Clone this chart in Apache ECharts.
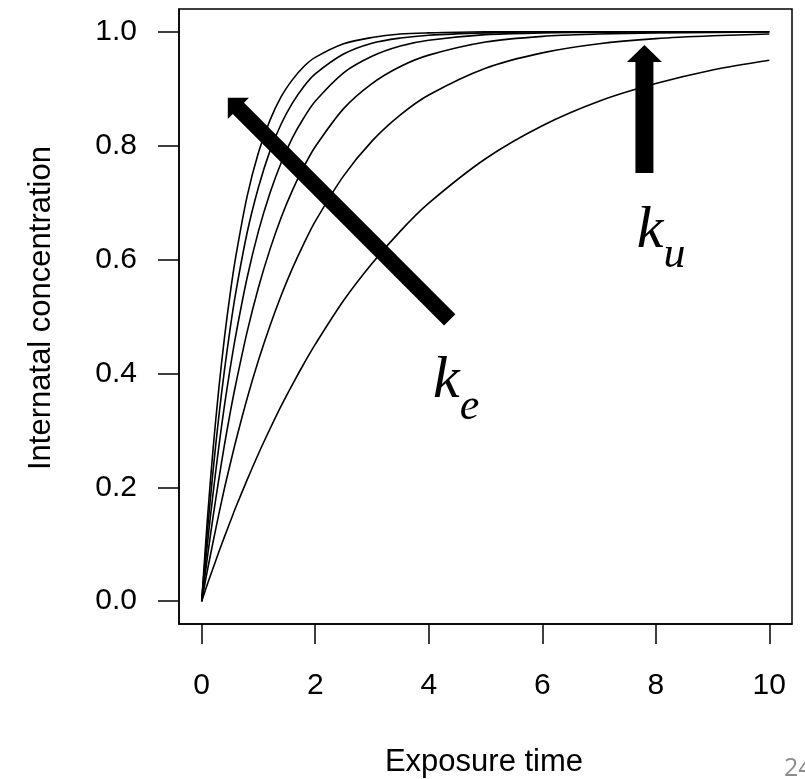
<!DOCTYPE html>
<html>
<head>
<meta charset="utf-8">
<script src="https://cdn.jsdelivr.net/npm/echarts@6/dist/echarts.min.js"></script>
<style>html,body{margin:0;padding:0;background:#fff;}#c{width:805px;height:779px;}</style>
</head>
<body>
<div id="c"></div>
<script>
// Exposure time grid (x)
var times = [0, 0.1, 0.2, 0.3, 0.4, 0.5, 0.6, 0.8, 1.0, 1.2, 1.4, 1.6, 1.8, 2.0, 2.5, 3.0, 3.5, 4, 5, 6, 7, 8, 9, 10];
// Internal concentration curves (fastest to slowest)
var curve1 = [0, 0.144, 0.267, 0.372, 0.462, 0.539, 0.605, 0.711, 0.788, 0.844, 0.886, 0.916, 0.939, 0.955, 0.979, 0.990, 0.996, 0.998, 1.000, 1.000, 1.000, 1.000, 1.000, 1.000];
var curve2 = [0, 0.122, 0.229, 0.323, 0.405, 0.478, 0.542, 0.647, 0.727, 0.790, 0.838, 0.875, 0.904, 0.926, 0.961, 0.980, 0.989, 0.994, 0.998, 1.000, 1.000, 1.000, 1.000, 1.000];
var curve3 = [0, 0.100, 0.189, 0.270, 0.343, 0.408, 0.467, 0.568, 0.650, 0.716, 0.770, 0.814, 0.849, 0.878, 0.928, 0.957, 0.975, 0.985, 0.995, 0.998, 0.999, 1.000, 1.000, 1.000];
var curve4 = [0, 0.077, 0.148, 0.213, 0.274, 0.330, 0.381, 0.473, 0.551, 0.617, 0.674, 0.722, 0.763, 0.798, 0.865, 0.909, 0.939, 0.959, 0.982, 0.992, 0.996, 0.998, 0.999, 1.000];
var curve5 = [0, 0.054, 0.104, 0.152, 0.198, 0.240, 0.281, 0.356, 0.423, 0.483, 0.537, 0.585, 0.628, 0.667, 0.747, 0.808, 0.854, 0.889, 0.936, 0.963, 0.979, 0.988, 0.993, 0.996];
var curve6 = [0, 0.030, 0.058, 0.086, 0.113, 0.139, 0.165, 0.213, 0.259, 0.302, 0.343, 0.381, 0.417, 0.451, 0.528, 0.593, 0.650, 0.699, 0.777, 0.835, 0.878, 0.909, 0.933, 0.950];
var curves = [curve1, curve2, curve3, curve4, curve5, curve6];

// Tick labels
var xTicks = [0, 2, 4, 6, 8, 10];
var yTicks = [0, 0.2, 0.4, 0.6, 0.8, 1.0];

// Annotation arrows (data units): [fromX, fromY, toX, toY]
var arrowKe = [4.37, 0.494, 0.46, 0.884];
var arrowKu = [7.80, 0.752, 7.80, 0.977];
// Annotation labels (data units)
var labelKe = {main: 'k', sub: 'e', at: [4.31, 0.387], subAt: [4.72, 0.341]};
var labelKu = {main: 'k', sub: 'u', at: [7.90, 0.650], subAt: [8.33, 0.608]};

// ---- styling (not data) ----
var arrowStyles = [
  {half: 8, headLen: 15, headHalf: 15},
  {half: 9, headLen: 17, headHalf: 17.5}
];

function pairs(arr) {
  return times.map(function (t, i) { return [t, arr[i]]; });
}

var series = curves.map(function (c) {
  return {
    type: 'line', data: pairs(c), showSymbol: false, smooth: 0.3,
    lineStyle: {color: '#000', width: 1.6}, silent: true, z: 2
  };
});

series.push({
  type: 'custom', z: 5, silent: true,
  data: [arrowKe, arrowKu],
  renderItem: function (params, api) {
    var p1 = api.coord([api.value(0), api.value(1)]);
    var p2 = api.coord([api.value(2), api.value(3)]);
    var st = arrowStyles[params.dataIndex];
    var dx = p2[0] - p1[0], dy = p2[1] - p1[1];
    var L = Math.sqrt(dx * dx + dy * dy);
    var ux = dx / L, uy = dy / L, nx = -uy, ny = ux;
    var bx = p2[0] - ux * st.headLen, by = p2[1] - uy * st.headLen;
    var pts = [
      [p1[0] + nx * st.half, p1[1] + ny * st.half],
      [bx + nx * st.half, by + ny * st.half],
      [bx + nx * st.headHalf, by + ny * st.headHalf],
      [p2[0], p2[1]],
      [bx - nx * st.headHalf, by - ny * st.headHalf],
      [bx - nx * st.half, by - ny * st.half],
      [p1[0] - nx * st.half, p1[1] - ny * st.half]
    ];
    return {type: 'polygon', shape: {points: pts}, style: {fill: '#000'}};
  }
});

var labels = [labelKe, labelKu];
series.push({
  type: 'custom', z: 6, silent: true,
  data: labels.map(function (l) { return [l.at[0], l.at[1], l.subAt[0], l.subAt[1]]; }),
  renderItem: function (params, api) {
    var l = labels[params.dataIndex];
    var a = api.coord([api.value(0), api.value(1)]);
    var b = api.coord([api.value(2), api.value(3)]);
    return {
      type: 'group',
      children: [
        {type: 'text', x: a[0], y: a[1], style: {text: l.main, fontSize: 60, fontStyle: 'italic', fontFamily: 'Liberation Serif', fill: '#000', align: 'center', verticalAlign: 'middle'}},
        {type: 'text', x: b[0], y: b[1], style: {text: l.sub, fontSize: 44, fontStyle: 'italic', fontFamily: 'Liberation Serif', fill: '#000', align: 'center', verticalAlign: 'middle'}}
      ]
    };
  }
});

var chart = echarts.init(document.getElementById('c'), null, {renderer: 'canvas'});
chart.setOption({
  animation: false,
  backgroundColor: '#fff',
  grid: {left: 179, top: 9, right: 13, bottom: 155, show: true, borderColor: '#000', borderWidth: 1.5, backgroundColor: 'transparent'},
  xAxis: {
    type: 'value', min: -0.4, max: 10.4,
    axisLine: {show: true, onZero: false, lineStyle: {color: '#000', width: 1.5}},
    axisTick: {show: true, inside: false, length: 20, customValues: xTicks, lineStyle: {color: '#000', width: 1.5}},
    axisLabel: {customValues: xTicks, margin: 47, fontSize: 30, fontFamily: 'Liberation Sans', color: '#000',
      formatter: function (v) { return String(Math.round(v)); }},
    splitLine: {show: false}
  },
  yAxis: {
    type: 'value', min: -0.04, max: 1.04,
    axisLine: {show: true, onZero: false, lineStyle: {color: '#000', width: 1.5}},
    axisTick: {show: true, inside: false, length: 21, customValues: yTicks, lineStyle: {color: '#000', width: 1.5}},
    axisLabel: {customValues: yTicks, margin: 42, fontSize: 30, fontFamily: 'Liberation Sans', color: '#000',
      formatter: function (v) { return v.toFixed(1); }},
    splitLine: {show: false}
  },
  graphic: [
    {type: 'text', x: 484, y: 762, style: {text: 'Exposure time', fontSize: 31, fontFamily: 'Liberation Sans', fill: '#000', align: 'center', verticalAlign: 'middle'}},
    {type: 'text', x: 41, y: 308, rotation: Math.PI / 2, style: {text: 'Internatal concentration', fontSize: 31, fontFamily: 'Liberation Sans', fill: '#000', align: 'center', verticalAlign: 'middle'}},
    {type: 'text', x: 784, y: 769, style: {text: '24', fontSize: 25, fontFamily: 'Open Sans', fill: '#8c8c8c', align: 'left', verticalAlign: 'middle'}}
  ],
  series: series
});
</script>
</body>
</html>
